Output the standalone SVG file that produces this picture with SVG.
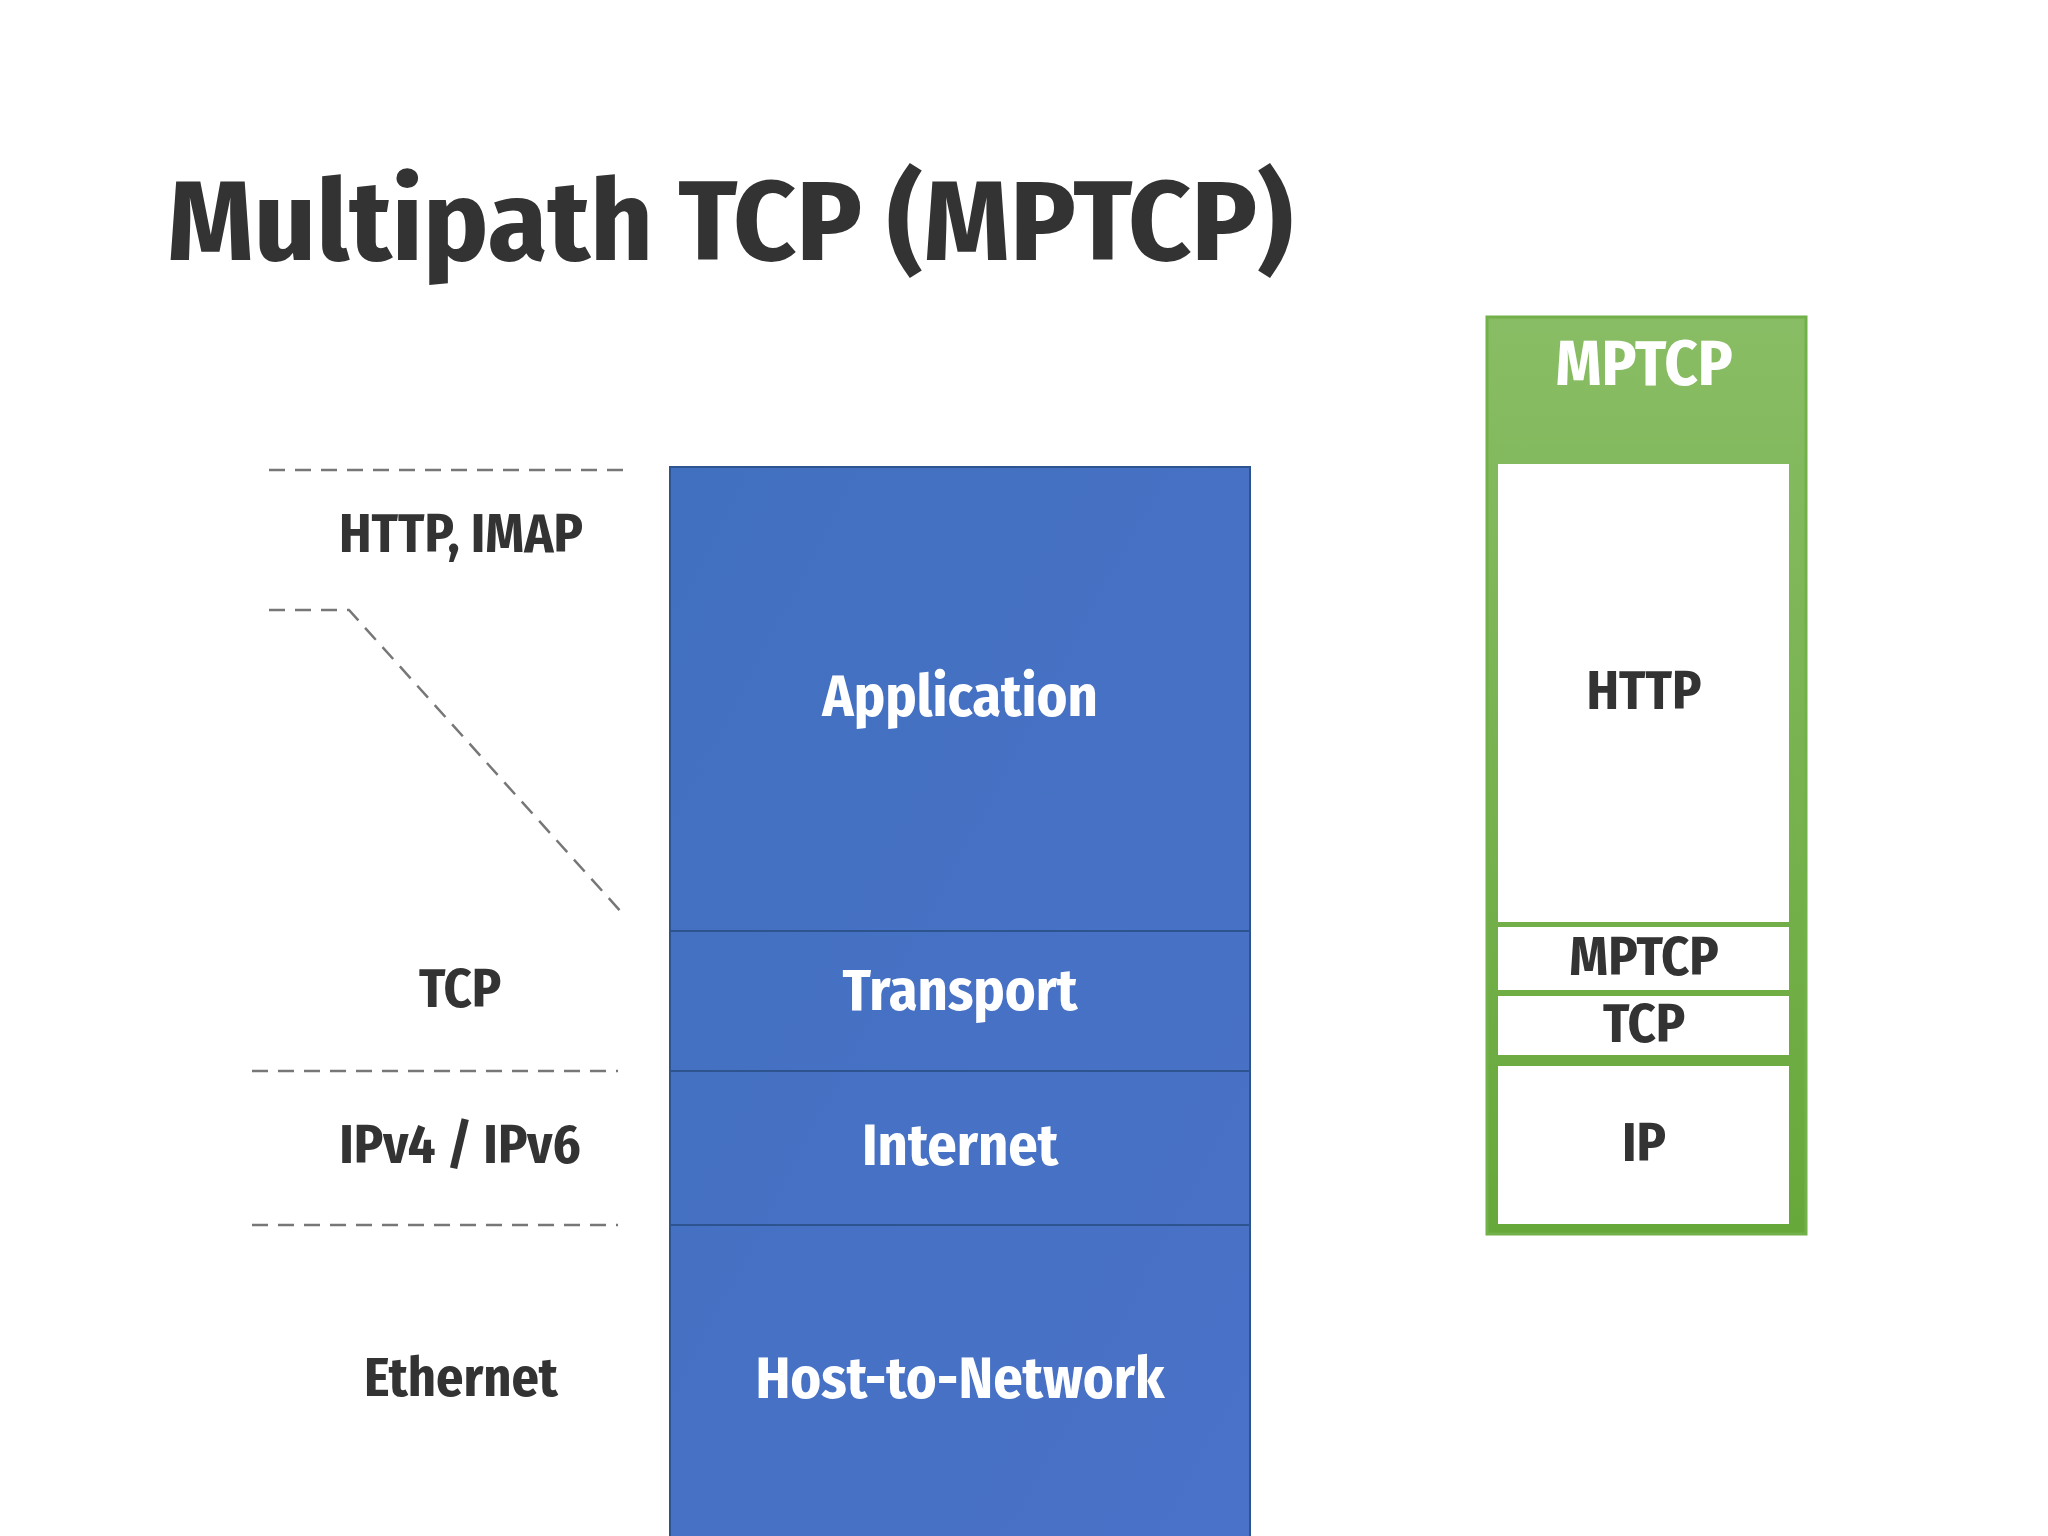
<svg xmlns="http://www.w3.org/2000/svg" width="2048" height="1536" viewBox="0 0 2048 1536">
<defs>
<linearGradient id="gb" x1="0" y1="0" x2="1" y2="1"><stop offset="0" stop-color="#4270c0"/><stop offset="1" stop-color="#4a72c8"/></linearGradient>
<linearGradient id="gg" x1="0" y1="0" x2="0" y2="1"><stop offset="0" stop-color="#89bd65"/><stop offset="1" stop-color="#67a83a"/></linearGradient>
<style>
text{font-family:"Fira Sans Condensed","Open Sans","Noto Sans",sans-serif;font-weight:bold;text-anchor:middle;dominant-baseline:central}
.w{fill:#fff;font-size:58px}.d{fill:#333;font-size:54px}
.dash{stroke:#777;stroke-width:2.5;stroke-dasharray:16 10;fill:none}
.div{stroke:#2d548f;stroke-width:2}
</style>
</defs>
<rect width="2048" height="1536" fill="#fff"/>
<text x="167" y="222" style="text-anchor:start;font-size:112px;fill:#333" textLength="1126" lengthAdjust="spacingAndGlyphs">Multipath TCP (MPTCP)</text>
<g id="stack">
<rect x="670" y="467" width="580" height="1080" fill="url(#gb)" stroke="#2d548f" stroke-width="2"/>
<line class="div" x1="670" y1="931" x2="1250" y2="931"/>
<line class="div" x1="670" y1="1071" x2="1250" y2="1071"/>
<line class="div" x1="670" y1="1225" x2="1250" y2="1225"/>
</g>
<g id="application"><text class="w" x="960" y="696">Application</text></g>
<g id="transport"><text class="w" x="960" y="990">Transport</text></g>
<g id="internet"><text class="w" x="960" y="1145">Internet</text></g>
<g id="host"><text class="w" x="960" y="1378">Host-to-Network</text></g>
<g id="labels">
<text class="d" x="461" y="534">HTTP, IMAP</text>
<text class="d" x="460" y="989">TCP</text>
<text class="d" x="460" y="1145">IPv4 / IPv6</text>
<text class="d" x="461" y="1378">Ethernet</text>
</g>
<g id="connectors">
<line class="dash" x1="269" y1="470" x2="623" y2="470"/>
<polyline class="dash" points="269,610 349,610 623,914"/>
<line class="dash" x1="252" y1="1071" x2="618" y2="1071"/>
<line class="dash" x1="252" y1="1225" x2="618" y2="1225"/>
</g>
<g id="mptcp-box">
<rect x="1487" y="317" width="319" height="917" fill="url(#gg)" stroke="#72b04a" stroke-width="3"/>
<text x="1644" y="363" style="fill:#fff;font-size:64px">MPTCP</text>
<rect x="1498" y="464" width="291" height="458" fill="#fff"/>
<rect x="1498" y="927" width="291" height="63" fill="#fff"/>
<rect x="1498" y="996" width="291" height="59" fill="#fff"/>
<rect x="1498" y="1066" width="291" height="158" fill="#fff"/>
<text class="d" x="1644" y="691">HTTP</text>
<text class="d" x="1644" y="957">MPTCP</text>
<text class="d" x="1644" y="1024">TCP</text>
<text class="d" x="1644" y="1143">IP</text>
</g>
</svg>
